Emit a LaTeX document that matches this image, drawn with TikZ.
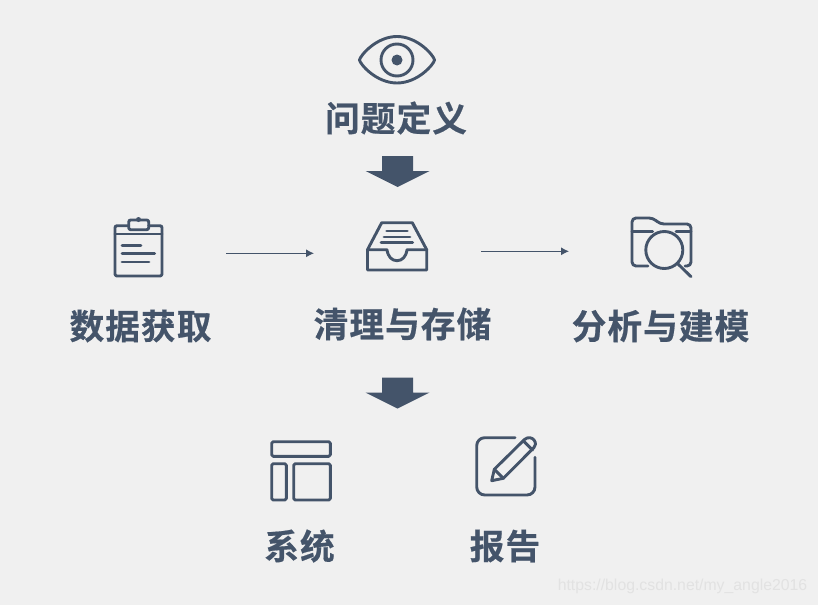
\documentclass[tikz,border=0pt]{standalone}
\usepackage{fontspec}
\usetikzlibrary{arrows.meta}
\newfontfamily\cjkbold[LetterSpace=3,FakeBold=0.5]{Noto Sans CJK SC Bold}
\setmainfont{Liberation Sans}
\definecolor{slate}{HTML}{44546A}
\definecolor{paper}{HTML}{F0F0F0}
\definecolor{mark}{HTML}{E2E2E2}
\tikzset{
    icon/.style={draw=slate,line width=2.9pt,line join=round,line cap=round},
    title/.style={text=slate,font=\fontsize{34.7}{35}\cjkbold,inner sep=0pt},
    flow/.style={draw=slate,line width=1pt,-{Latex[length=8pt,width=8pt]}},
    blockdown/.pic={\fill[slate](-15.5,0)--(15.5,0)--(15.5,15)--(32,15)--(0,31)--(-32,15)--(-15.5,15)--cycle;}
}
\begin{document}
\begin{tikzpicture}[x=1pt,y=-1pt]
    \fill[paper](0,0)rectangle(818,605);
    \useasboundingbox(0,0)rectangle(818,605);

    % eye
    \draw[icon](359.5,60).. controls (360,56) and (376,36.5) .. (397,36.5).. controls (418,36.5) and (434,56) .. (434.5,60)
        .. controls (434,64) and (418,83) .. (397,83).. controls (376,83) and (360,64) .. (359.5,60)--cycle;
    \draw[icon](397,60)circle(16);
    \fill[slate](397,60)circle(5.5);
    \node[title](problem)at(396,118){问题定义};
    \pic at(397.5,156){blockdown};

    % clipboard
    \draw[icon,rounded corners=2pt](128.7,225.7)--(115,225.7)--(115,276)--(162,276)--(162,225.7)--(148.7,225.7);
    \draw[icon](115,234)--(162,234);
    \draw[icon,rounded corners=2pt](128.7,220)rectangle(148.7,229.7);
    \fill[slate](138.5,219.5)circle(2.5);
    \draw[icon](122,245.3)--(141,245.3);
    \draw[icon](122,253.7)--(154.6,253.7);
    \draw[icon](122,262)--(149,262);
    \node[title](acquire)at(140.5,326){数据获取};

    % tray
    \draw[icon](367.5,249.7)--(381.7,222.7)--(412.3,222.7)--(426.7,249.7)--(426.7,270)--(367.5,270)--cycle;
    \draw[icon](367.5,249.7)--(387,249.7).. controls (388,257) and (392,260.7) .. (397,260.7).. controls (402,260.7) and (406,257) .. (407,249.7)--(426.7,249.7);
    \draw[icon](386.7,231)--(407.3,231);
    \draw[icon](384,237)--(410,237);
    \draw[icon](381,242.3)--(412.7,242.3);
    \node[title](clean)at(402.5,324){清理与存储};

    % folder
    \draw[icon,rounded corners=4pt](648,266)--(632,266)--(632,218)--(653,218)--(660,224)--(691,224)--(691,266)--(685,266);
    \draw[icon](632,231.7)--(652.7,231.7);
    \draw[icon](676,231.7)--(691,231.7);
    \draw[icon](664.3,250)circle(18.5);
    \draw[icon](678,264)--(691,276.7);
    \node[title](model)at(660.5,326){分析与建模};

    % layout
    \draw[icon,rounded corners=1.5pt](271.7,441.7)rectangle(330.3,456.3);
    \draw[icon,rounded corners=1.5pt](271.7,463.7)rectangle(286.3,500);
    \draw[icon,rounded corners=1.5pt](293.7,463.7)rectangle(330.3,500);
    \node[title](system)at(299.5,546){系统};
    \pic at(397.5,377.5){blockdown};

    % note
    \draw[icon,rounded corners=8pt](515,437.7)--(476.7,437.7)--(476.7,495)--(535,495)--(535,457.3);
    \draw[icon](491.7,480.7)--(494.3,469.3)--(524.5,439.5).. controls (528,436.5) and (532,437.5) .. (534,440).. controls (536,443) and (536,445.5) .. (534,447.5)--(503.3,478.3)--cycle;
    \draw[icon](494.3,469.3)--(503.3,478.3);
    \draw[icon](523.5,441)--(532.5,450);
    \node[title](report)at(505,546){报告};

    % flow between the icons
    \coordinate(a1)at(226,253.3);
    \coordinate(a2)at(314,253.3);
    \coordinate(b1)at(481.3,251.3);
    \coordinate(b2)at(569,251.3);
    \draw[flow](a1)--(a2);
    \draw[flow](b1)--(b2);

    \node[text=mark,font=\fontsize{15.8}{16}\selectfont,inner sep=0pt](source)at(682.5,586){https://blog.csdn.net/my\_angle2016};
\end{tikzpicture}
\end{document}
